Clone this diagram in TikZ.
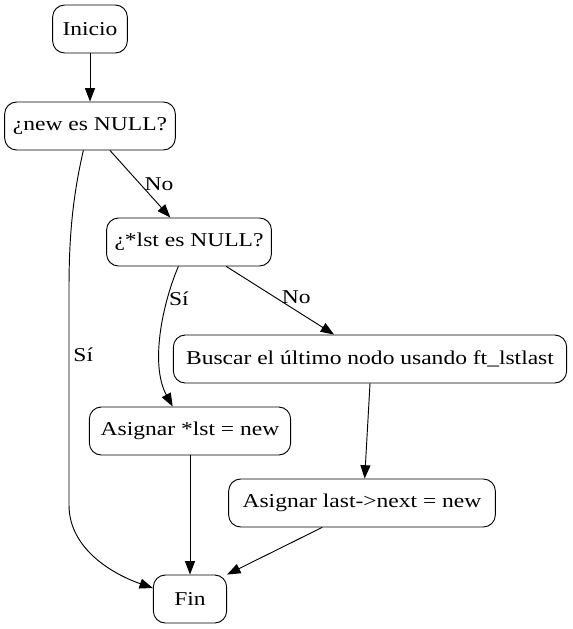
\documentclass[tikz,border=0pt]{standalone}
\usepackage{fontspec}
\setmainfont[FakeStretch=1.2]{Liberation Serif}
\usetikzlibrary{arrows.meta}

\tikzset{
  caja/.style={draw,rounded corners=9pt,minimum height=36pt,inner xsep=6pt,
    font=\fontsize{14.7}{17}\selectfont},
  flecha/.style={-{Triangle[length=10pt,width=7.5pt]}},
  etiq/.style={font=\fontsize{14.7}{17}\selectfont,inner sep=1pt}
}

\begin{document}
\begin{tikzpicture}[x=0.75pt,y=-0.75pt,line cap=round,line width=0.7pt]
\useasboundingbox (0,0) rectangle (573,629);
% nodos
\node[caja,minimum width=56pt] (inicio) at (90,29) {Inicio};
\node[caja,minimum width=128pt] (newnull) at (90,126) {¿new es NULL?};
\node[caja,minimum width=123pt] (lstnull) at (189,242) {¿*lst es NULL?};
\node[caja,minimum width=295pt] (buscar) at (370,359) {Buscar el último nodo usando ft\_lstlast};
\node[caja,minimum width=151pt] (asiglst) at (190,431) {Asignar *lst = new};
\node[caja,minimum width=200pt] (asignext) at (362,503) {Asignar last->next = new};
\node[caja,minimum width=55pt] (fin) at (190,599) {Fin};
% conexiones
\draw[flecha] (inicio) -- (newnull);
\draw[flecha] ([xshift=15pt]newnull.south) -- node[etiq,right=2pt,pos=0.5] {No} ([xshift=-14pt]lstnull.north);
\draw[flecha] ([xshift=-5pt]newnull.south) .. controls (72,200) and (69,240) .. (69,290)
  -- node[etiq,right=2pt,pos=0.3] {Sí} (69,505) .. controls (69,550) and (115,575) .. (fin.west|-0,588);
\draw[flecha] ([xshift=-8pt]lstnull.south) .. controls (162,305) and (150,365) .. node[etiq,right=0pt,pos=0.25] {Sí} ([xshift=-13pt]asiglst.north);
\draw[flecha] ([xshift=28pt]lstnull.south) -- node[etiq,right=4pt,pos=0.45] {No} ([xshift=-27pt]buscar.north);
\draw[flecha] (buscar.south) -- ([xshift=2pt]asignext.north);
\draw[flecha] (asiglst) -- (fin);
\draw[flecha] ([xshift=-30pt]asignext.south) -- (fin.north east);
\end{tikzpicture}
\end{document}
